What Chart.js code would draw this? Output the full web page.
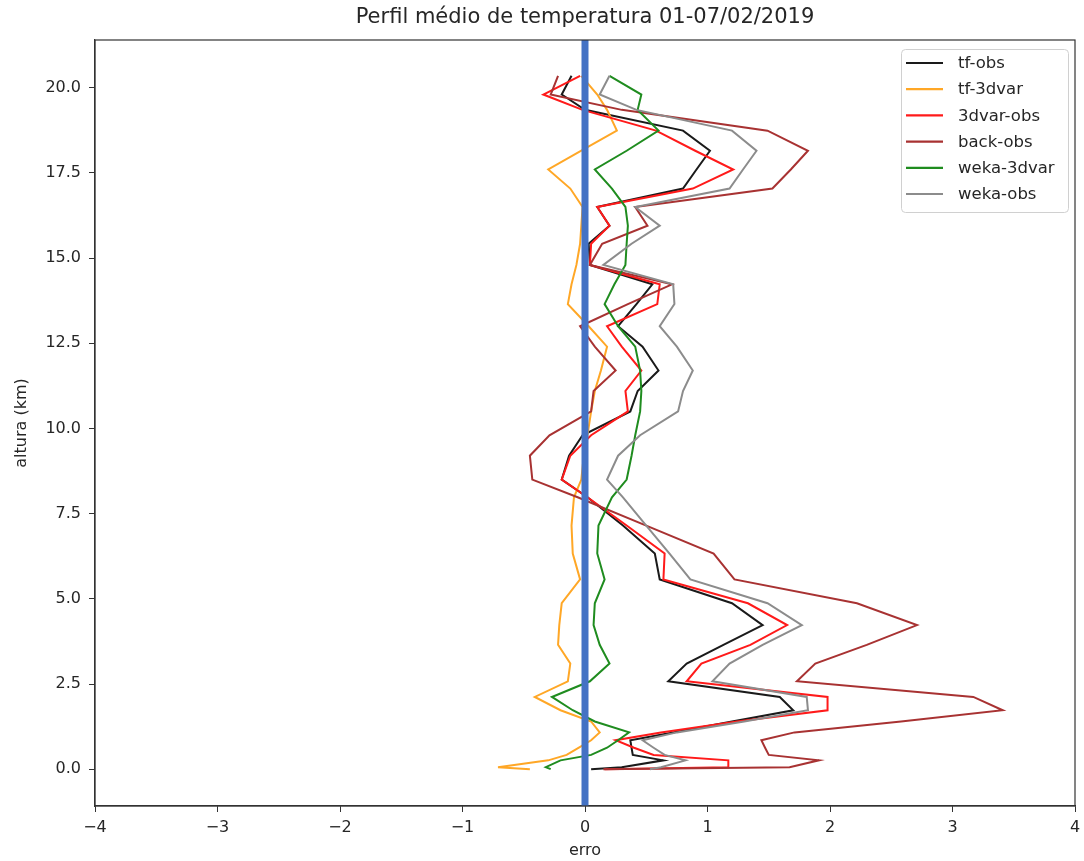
<!DOCTYPE html>
<html>
<head>
<meta charset="utf-8">
<script src="https://cdn.jsdelivr.net/npm/chart.js@4.4.1/dist/chart.umd.min.js"></script>
<style>
  html, body { margin: 0; padding: 0; background: #ffffff; }
  #wrap { width: 1084px; height: 861px; }
</style>
</head>
<body>
<div id="wrap"><canvas id="chart" width="1084" height="861"></canvas></div>
<script>
// Altitude levels of the mean profile (km)
const HEIGHTS = [0.0, 0.06, 0.26, 0.42, 0.63, 0.85, 1.08, 1.4, 1.73, 2.12,
                 2.58, 3.1, 3.65, 4.23, 4.87, 5.57, 6.33, 7.15, 7.98, 8.5,
                 9.2, 9.8, 10.5, 11.1, 11.7, 12.4, 13.0, 13.65, 14.23, 14.8,
                 15.42, 15.95, 16.5, 17.04, 17.6, 18.15, 18.74, 19.35, 19.8, 20.35];

// Mean temperature error at each level, one list per comparison
const TF_OBS = [0.05, 0.30, 0.64, 0.39, 0.38, 0.37, 0.72, 1.20, 1.70, 1.59,
                0.68, 0.83, 1.13, 1.45, 1.20, 0.61, 0.57, 0.31, 0.02, -0.19,
                -0.13, -0.02, 0.37, 0.43, 0.60, 0.47, 0.27, 0.42, 0.55, 0.04,
                0.03, 0.20, 0.10, 0.80, 0.91, 1.02, 0.80, 0.00, -0.19, -0.11];
const TF_3DVAR = [-0.45, -0.71, -0.30, -0.15, -0.05, 0.05, 0.12, 0.05, -0.20, -0.41,
                  -0.14, -0.12, -0.22, -0.21, -0.19, -0.04, -0.10, -0.11, -0.09, -0.03,
                  -0.01, 0.02, 0.05, 0.08, 0.13, 0.18, 0.03, -0.14, -0.11, -0.07,
                  -0.04, -0.03, -0.02, -0.12, -0.30, -0.03, 0.26, 0.18, 0.10, -0.03];
const DVAR_OBS = [0.16, 1.17, 1.17, 0.56, 0.40, 0.25, 0.62, 1.24, 1.98, 1.98,
                  0.83, 0.95, 1.35, 1.65, 1.33, 0.64, 0.65, 0.34, 0.02, -0.19,
                  -0.12, 0.05, 0.35, 0.33, 0.46, 0.30, 0.18, 0.59, 0.61, 0.04,
                  0.05, 0.20, 0.10, 0.88, 1.21, 0.90, 0.58, -0.02, -0.34, -0.04];
const BACK_OBS = [0.15, 1.67, 1.91, 1.50, 1.47, 1.44, 1.71, 2.58, 3.41, 3.17,
                  1.73, 1.88, 2.30, 2.71, 2.22, 1.22, 1.05, 0.50, -0.06, -0.43,
                  -0.45, -0.29, 0.05, 0.07, 0.25, 0.08, -0.04, 0.35, 0.71, 0.04,
                  0.14, 0.51, 0.41, 1.53, 1.68, 1.82, 1.49, 0.30, -0.28, -0.22];
const WEKA_3DVAR = [-0.28, -0.32, -0.20, 0.05, 0.18, 0.27, 0.36, 0.08, -0.10, -0.27,
                    0.04, 0.20, 0.12, 0.07, 0.08, 0.16, 0.10, 0.11, 0.22, 0.34,
                    0.38, 0.41, 0.45, 0.46, 0.45, 0.41, 0.27, 0.16, 0.24, 0.33,
                    0.34, 0.35, 0.33, 0.22, 0.08, 0.34, 0.60, 0.43, 0.46, 0.20];
const WEKA_OBS = [0.53, 0.62, 0.82, 0.65, 0.56, 0.47, 0.75, 1.30, 1.82, 1.81,
                  1.04, 1.18, 1.45, 1.77, 1.49, 0.86, 0.69, 0.50, 0.31, 0.18,
                  0.27, 0.45, 0.76, 0.80, 0.88, 0.75, 0.61, 0.73, 0.72, 0.15,
                  0.38, 0.61, 0.41, 1.18, 1.29, 1.40, 1.20, 0.42, 0.12, 0.20];

const SERIES_NAMES = ['tf-obs', 'tf-3dvar', '3dvar-obs', 'back-obs', 'weka-3dvar', 'weka-obs'];
const SERIES_VALUES = [TF_OBS, TF_3DVAR, DVAR_OBS, BACK_OBS, WEKA_3DVAR, WEKA_OBS];
const SERIES_COLORS = ['#1a1a1a', '#ffa726', '#ff1a1a', '#a83232', '#1f8c1f', '#8c8c8c'];

const X_TICKS = [-4, -3, -2, -1, 0, 1, 2, 3, 4];
const Y_TICKS = [0, 2.5, 5, 7.5, 10, 12.5, 15, 17.5, 20];
const X_RANGE = [-4, 4];
const Y_RANGE = [-1.08, 21.4];
const ZERO_ERROR = 0;

const TITLE = 'Perfil médio de temperatura 01-07/02/2019';
const X_LABEL = 'erro';
const Y_LABEL = 'altura (km)';

const FONT = "'DejaVu Sans', 'Liberation Sans', sans-serif";
const TEXT_COLOR = '#262626';
const AXIS_COLOR = '#333333';

function profilePoints(values) {
  return values.map((v, i) => ({ x: v, y: HEIGHTS[i] }));
}

const profileSets = SERIES_NAMES.map((name, i) => ({
  label: name,
  data: profilePoints(SERIES_VALUES[i]),
  borderColor: SERIES_COLORS[i],
  backgroundColor: SERIES_COLORS[i],
  borderWidth: 2,
  showLine: true,
  pointRadius: 0,
  tension: 0,
  // later series sit above earlier ones
  order: SERIES_NAMES.length - i
}));

const zeroLine = {
  label: 'zero',
  data: [{ x: ZERO_ERROR, y: Y_RANGE[0] }, { x: ZERO_ERROR, y: Y_RANGE[1] }],
  borderColor: '#4472c4',
  borderWidth: 7,
  borderCapStyle: 'butt',
  showLine: true,
  pointRadius: 0,
  order: 0
};

const framePlugin = {
  id: 'frame',
  afterDraw(chart) {
    const { ctx, chartArea: a } = chart;
    ctx.save();
    ctx.strokeStyle = AXIS_COLOR;
    ctx.lineWidth = 1.2;
    ctx.strokeRect(a.left, a.top, a.right - a.left, a.bottom - a.top);

    // title and axis labels
    ctx.fillStyle = TEXT_COLOR;
    ctx.textAlign = 'center';
    ctx.textBaseline = 'middle';
    ctx.font = '21px ' + FONT;
    ctx.fillText(TITLE, (a.left + a.right) / 2, 18);
    ctx.font = '16px ' + FONT;
    ctx.fillText(X_LABEL, (a.left + a.right) / 2, 851);
    ctx.translate(22, (a.top + a.bottom) / 2);
    ctx.rotate(-Math.PI / 2);
    ctx.fillText(Y_LABEL, 0, 0);
    ctx.restore();

    // legend box in the upper right corner
    ctx.save();
    const boxW = 167, boxH = 163;
    const bx = a.right - 7 - boxW, by = a.top + 9;
    ctx.fillStyle = 'rgba(255,255,255,0.85)';
    ctx.strokeStyle = '#d0d0d0';
    ctx.lineWidth = 1;
    ctx.beginPath();
    ctx.roundRect(bx + 0.5, by + 0.5, boxW, boxH, 4);
    ctx.fill();
    ctx.stroke();
    ctx.font = '16.5px ' + FONT;
    ctx.textAlign = 'left';
    ctx.textBaseline = 'middle';
    SERIES_NAMES.forEach((name, i) => {
      const yy = by + 14 + i * 26.2;
      ctx.strokeStyle = SERIES_COLORS[i];
      ctx.lineWidth = 2.2;
      ctx.beginPath();
      ctx.moveTo(bx + 5, yy);
      ctx.lineTo(bx + 42, yy);
      ctx.stroke();
      ctx.fillStyle = TEXT_COLOR;
      ctx.fillText(name, bx + 57, yy + 1);
    });
    ctx.restore();
  }
};

new Chart(document.getElementById('chart'), {
  type: 'scatter',
  data: { datasets: [zeroLine, ...profileSets] },
  options: {
    responsive: false,
    animation: false,
    devicePixelRatio: 1,
    layout: { padding: { top: 40, right: 9, left: 0, bottom: 0 } },
    plugins: { legend: { display: false }, tooltip: { enabled: false } },
    elements: { point: { radius: 0 }, line: { tension: 0 } },
    scales: {
      x: {
        type: 'linear',
        min: X_RANGE[0],
        max: X_RANGE[1],
        afterFit(scale) { scale.height = 55; scale.paddingLeft = 0; scale.paddingRight = 0; },
        afterBuildTicks(scale) { scale.ticks = X_TICKS.map(v => ({ value: v })); },
        ticks: {
          color: TEXT_COLOR,
          font: { family: FONT, size: 16 },
          padding: 6,
          maxRotation: 0,
          callback: v => (v < 0 ? '\u2212' + Math.abs(v) : String(v))
        },
        grid: { drawOnChartArea: false, drawTicks: true, tickLength: 6, color: AXIS_COLOR },
        border: { display: true, color: AXIS_COLOR, width: 1.2 }
      },
      y: {
        type: 'linear',
        min: Y_RANGE[0],
        max: Y_RANGE[1],
        afterFit(scale) { scale.width = 95; scale.paddingTop = 0; scale.paddingBottom = 0; },
        afterBuildTicks(scale) { scale.ticks = Y_TICKS.map(v => ({ value: v })); },
        ticks: {
          color: TEXT_COLOR,
          font: { family: FONT, size: 16 },
          padding: 8,
          callback: v => Number(v).toFixed(1)
        },
        grid: { drawOnChartArea: false, drawTicks: true, tickLength: 6, color: AXIS_COLOR },
        border: { display: true, color: AXIS_COLOR, width: 1.2 }
      }
    }
  },
  plugins: [framePlugin]
});
</script>
</body>
</html>
